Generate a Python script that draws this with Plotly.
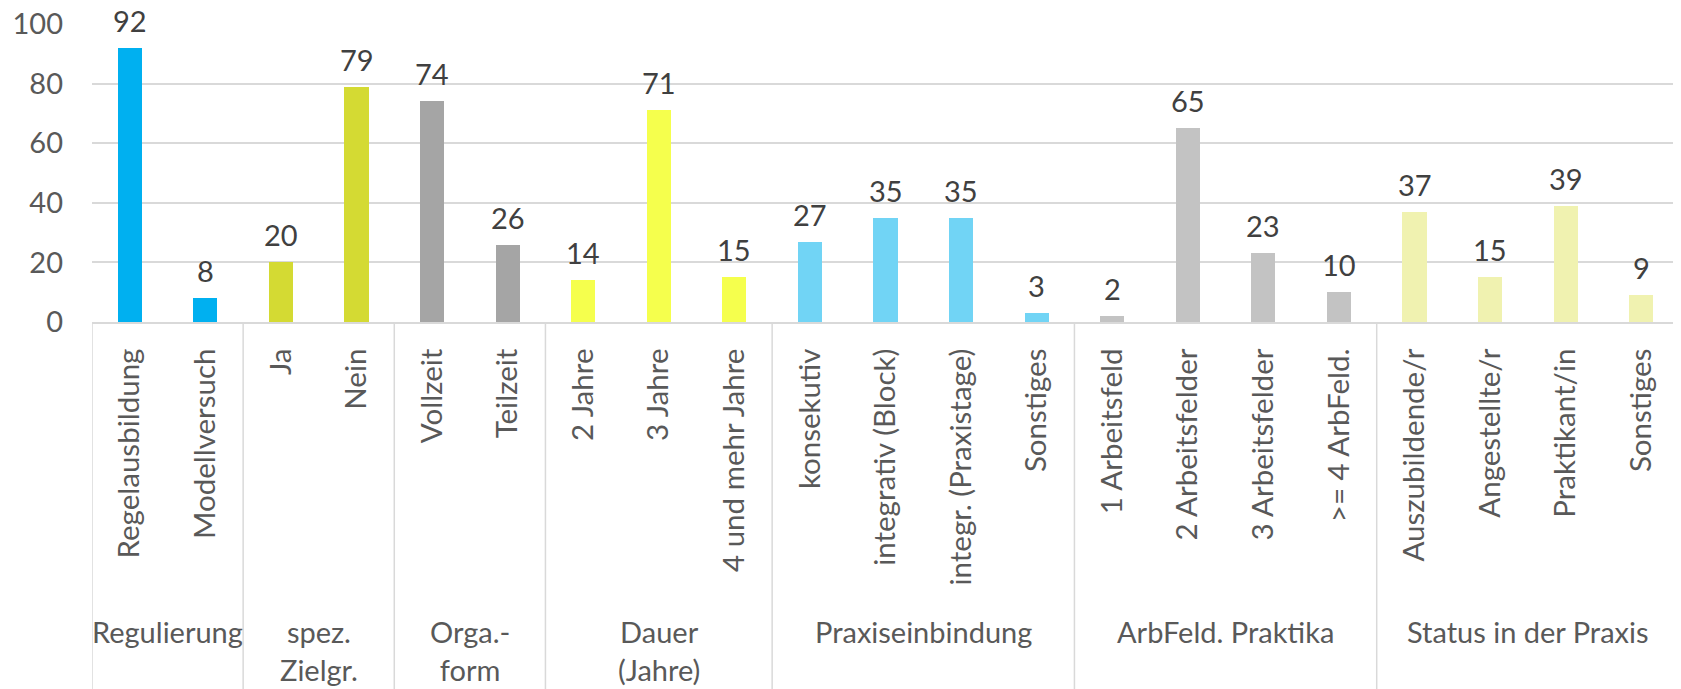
import plotly.graph_objects as go

categories = ["Regelausbildung", "Modellversuch", "Ja", "Nein", "Vollzeit", "Teilzeit",
              "2 Jahre", "3 Jahre", "4 und mehr Jahre", "konsekutiv", "integrativ (Block)",
              "integr. (Praxistage)", "Sonstiges", "1 Arbeitsfeld", "2 Arbeitsfelder",
              "3 Arbeitsfelder", ">= 4 ArbFeld.", "Auszubildende/r", "Angestellte/r",
              "Praktikant/in", "Sonstiges"]
values = [92, 8, 20, 79, 74, 26, 14, 71, 15, 27, 35, 35, 3, 2, 65, 23, 10, 37, 15, 39, 9]
groups = ["Regulierung", "spez.<br>Zielgr.", "Orga.-<br>form", "Dauer<br>(Jahre)",
          "Praxiseinbindung", "ArbFeld. Praktika", "Status in der Praxis"]
group_sizes = [2, 2, 2, 3, 4, 4, 4]
group_colors = ["#00B0F0", "#D4DA33", "#A5A5A5", "#F5FF4D", "#71D4F5", "#C3C3C3", "#F0F2B0"]
y_ticks = [0, 20, 40, 60, 80, 100]

FONT = "Lato"
OFF = 8  # page body margin
W, H = 1681 - OFF, 689 - OFF
ML, MR, MT = 92 - OFF, 2, 24 - OFF
plot_h = 298
MB = H - MT - plot_h
axis_y = MT + plot_h  # in figure pixels

x = list(range(len(categories)))
colors = []
for g, n in enumerate(group_sizes):
    colors += [group_colors[g]] * n

fig = go.Figure()
fig.add_trace(go.Bar(x=x, y=values, width=0.32, marker=dict(color=colors, line=dict(width=0)),
                     hoverinfo="skip"))

annotations = []
for xi, v in zip(x, values):
    annotations.append(dict(x=xi, y=v, xref="x", yref="y", text=str(v), showarrow=False,
                            yanchor="bottom", yshift=8,
                            font=dict(family=FONT, size=29, color="#404040")))

shapes = []
start = 0
bounds = [-0.5]
for g, n in enumerate(group_sizes):
    mid = start + (n - 1) / 2
    annotations.append(dict(x=mid, y=(axis_y - (612 - OFF)) / plot_h, xref="x", yref="paper",
                            text=groups[g], showarrow=False, yanchor="top", align="center",
                            font=dict(family=FONT, size=29, color="#595959")))
    start += n
    bounds.append(start - 0.5)
for b in bounds:
    shapes.append(dict(type="line", xref="x", yref="paper", x0=b, x1=b, y0=0,
                       y1=(axis_y - H) / plot_h, line=dict(color="#D9D9D9", width=1.5)))

fig.update_layout(
    template="none",
    width=W, height=H, margin=dict(l=ML, r=MR, t=MT, b=MB, autoexpand=False),
    paper_bgcolor="white", plot_bgcolor="white", showlegend=False,
    font=dict(family=FONT, color="#595959"),
    annotations=annotations, shapes=shapes, bargap=0,
)
fig.update_xaxes(range=[-0.5, len(categories) - 0.5], tickmode="array", tickvals=x,
                 ticktext=categories, tickangle=-90, showgrid=False, zeroline=False,
                 showline=True, linecolor="#D9D9D9", linewidth=1.5, ticks="", automargin=False,
                 ticklabeloverflow="allow",
                 ticklabelstandoff=13, tickfont=dict(family=FONT, size=29.5, color="#595959"))
fig.update_yaxes(range=[0, 100], tickmode="array", tickvals=y_ticks, showgrid=True,
                 gridcolor="#D9D9D9", gridwidth=1.5, zeroline=False, showline=False, ticks="",
                 automargin=False, ticklabeloverflow="allow",
                 ticklabelstandoff=28, tickfont=dict(family=FONT, size=29, color="#595959"))

fig.write_html("out.html")
